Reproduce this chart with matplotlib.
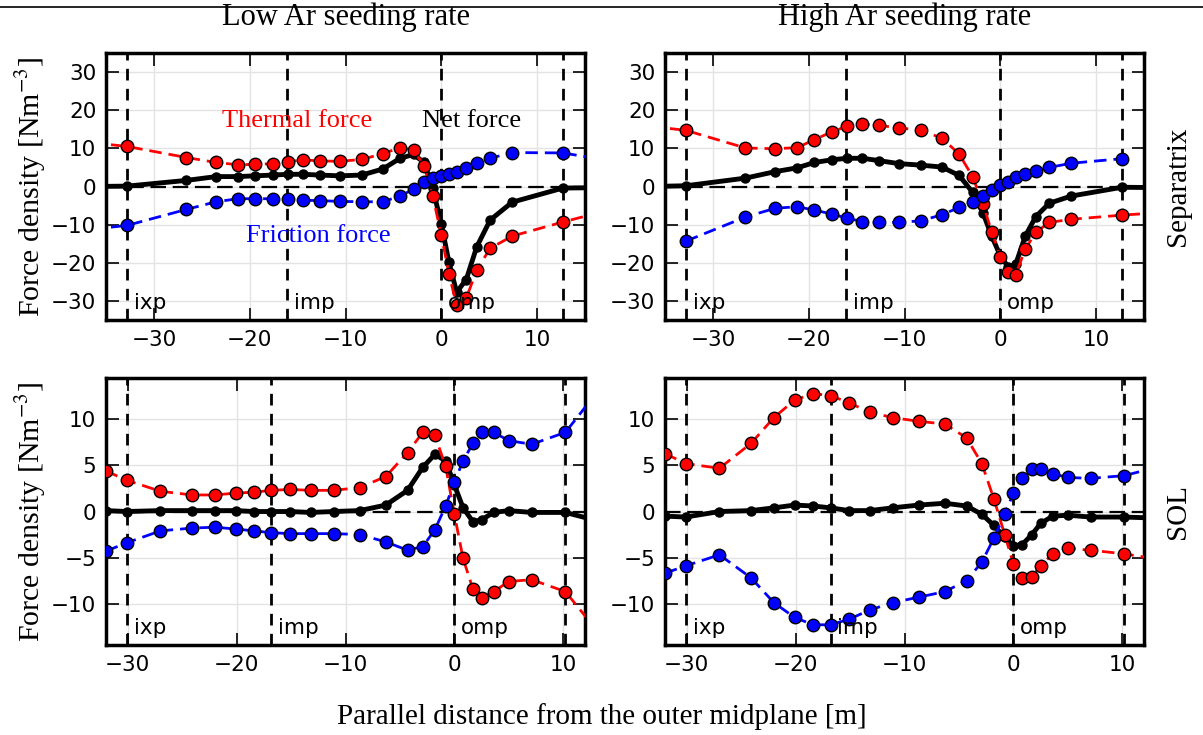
import numpy as np
import matplotlib
matplotlib.use('Agg')
import matplotlib.pyplot as plt
import matplotlib.transforms as mtransforms
from matplotlib.lines import Line2D

plt.rcParams['mathtext.fontset'] = 'stix'
SERIF = 'Liberation Serif'

# Separatrix (top row), positions along the field line [m]
x_sep = [-36.5, -32.8, -26.6, -23.5, -21.2, -19.4, -17.6, -16.0, -14.4, -12.7, -10.6, -8.3, -6.1,
         -4.3, -2.9, -1.8, -0.9, 0.0, 0.8, 1.6, 2.6, 3.7, 5.1, 7.4, 12.7, 17.0]

# Low Ar, separatrix
th_sep_low = [11.5, 10.5, 7.6, 6.3, 5.7, 5.8, 6.0, 6.5, 7.0, 6.7, 6.6, 7.1, 8.6,
              10.2, 9.6, 5.4, -2.4, -12.7, -22.9, -31.1, -29.3, -21.9, -16.2, -13.0, -9.3, -6.5]
fr_sep_low = [-11.2, -10.2, -6.0, -4.0, -3.2, -3.2, -3.2, -3.3, -3.6, -3.7, -3.9, -4.0, -4.0,
              -2.5, -0.7, 1.1, 2.2, 2.8, 3.2, 3.7, 4.8, 6.1, 7.4, 8.9, 8.8, 7.0]
net_sep_low = [0.0, 0.1, 1.6, 2.6, 2.6, 2.8, 3.0, 3.2, 3.2, 3.0, 2.8, 3.0, 4.6,
               7.4, 8.4, 6.3, -0.4, -9.8, -19.9, -27.7, -24.4, -15.8, -8.8, -4.1, -0.4, -0.3]

# High Ar, separatrix
th_sep_high = [15.8, 14.7, 10.1, 9.9, 10.2, 12.3, 14.3, 15.8, 16.4, 16.0, 15.4, 14.7, 12.7,
               8.5, 2.6, -4.7, -11.9, -18.4, -22.5, -23.1, -16.4, -12.0, -9.4, -8.6, -7.5, -6.8]
fr_sep_high = [np.nan, -14.3, -8.0, -5.7, -5.3, -6.2, -7.2, -8.3, -9.2, -9.4, -9.4, -9.0, -7.4,
               -5.5, -4.0, -2.4, -1.0, 0.3, 1.3, 2.6, 3.4, 4.1, 5.0, 6.1, 7.3, np.nan]
net_sep_high = [0.0, 0.2, 2.2, 3.9, 4.9, 6.3, 7.0, 7.4, 7.4, 6.8, 6.0, 5.6, 5.1,
                2.9, -1.5, -7.0, -13.0, -18.2, -21.0, -20.4, -13.0, -7.9, -4.4, -2.5, -0.2, -0.3]

# SOL (bottom row)
x_sol = [-32.0, -30.1, -27.0, -24.1, -22.0, -20.1, -18.4, -16.8, -15.1, -13.2, -11.1, -8.7, -6.3,
         -4.3, -2.9, -1.8, -0.8, 0.0, 0.8, 1.7, 2.5, 3.6, 5.0, 7.1, 10.2, 12.8]

th_sol_low = [4.4, 3.4, 2.2, 1.8, 1.8, 2.0, 2.1, 2.3, 2.4, 2.3, 2.3, 2.6, 3.8,
              6.4, 8.6, 8.3, 4.9, -0.3, -5.1, -8.4, -9.4, -8.7, -7.6, -7.4, -8.7, -12.5]
fr_sol_low = [-4.3, -3.4, -2.1, -1.8, -1.7, -1.9, -2.1, -2.3, -2.4, -2.4, -2.4, -2.5, -3.3,
              -4.2, -3.8, -2.0, 0.6, 3.2, 5.5, 7.4, 8.6, 8.6, 7.7, 7.3, 8.6, 12.5]
net_sol_low = [0.1, 0.0, 0.1, 0.1, 0.1, 0.1, 0.0, 0.0, 0.0, -0.1, 0.0, 0.1, 0.7,
               2.3, 4.8, 6.2, 5.5, 2.9, 0.4, -1.1, -0.9, -0.1, 0.1, -0.1, -0.1, -0.9]

th_sol_high = [6.3, 5.2, 4.7, 7.4, 10.2, 12.1, 12.8, 12.6, 11.8, 10.8, 10.2, 9.8, 9.5,
               8.0, 5.2, 1.4, -2.5, -5.7, -7.2, -7.1, -5.9, -4.6, -4.0, -4.2, -4.6, -5.1]
fr_sol_high = [-6.7, -5.9, -4.7, -7.2, -9.9, -11.5, -12.3, -12.3, -11.7, -10.7, -9.9, -9.3, -8.7,
               -7.5, -5.5, -2.9, -0.3, 2.0, 3.6, 4.6, 4.6, 4.1, 3.7, 3.6, 3.9, 4.7]
net_sol_high = [-0.5, -0.6, 0.0, 0.1, 0.4, 0.7, 0.6, 0.4, 0.1, 0.1, 0.4, 0.7, 0.9,
                0.6, -0.3, -1.5, -2.8, -3.7, -3.6, -2.5, -1.3, -0.5, -0.4, -0.6, -0.6, -0.7]

# Positions of the x-points, midplanes and target
marks_sep = [-32.8, -16.1, 0.0, 12.7]
marks_sol = [-30.1, -16.8, 0.0, 10.2]
mark_names = ['ixp', 'imp', 'omp']

fig = plt.figure(figsize=(12.03, 7.35), dpi=100)

boxes = [
    [0.0881, 0.5646, 0.3982, 0.3633],
    [0.5528, 0.5646, 0.3982, 0.3633],
    [0.0881, 0.1224, 0.3982, 0.3633],
    [0.5528, 0.1224, 0.3982, 0.3633],
]
panels = [
    (x_sep, th_sep_low, fr_sep_low, net_sep_low, marks_sep),
    (x_sep, th_sep_high, fr_sep_high, net_sep_high, marks_sep),
    (x_sol, th_sol_low, fr_sol_low, net_sol_low, marks_sol),
    (x_sol, th_sol_high, fr_sol_high, net_sol_high, marks_sol),
]

axes = []
for i, (box, (x, th, fr, net, marks)) in enumerate(zip(boxes, panels)):
    ax = fig.add_axes(box)
    axes.append(ax)
    ax.grid(True, color='#e3e3e3', lw=1.0, zorder=0)
    ax.set_axisbelow(True)

    # vertical markers and zero line
    for m in marks:
        ax.axvline(m, color='k', ls=(0, (4.2, 3)), lw=2, zorder=1)
    ax.axhline(0, color='k', ls=(0, (7, 3)), lw=1.6, zorder=1)

    ax.plot(x, net, '-o', color='k', lw=3.5, ms=6.5, mec='k', zorder=3)
    ax.plot(x, th, '--o', color='#ff0000', lw=2, ms=9, mec='k', mew=1, mfc='#ff0000',
            dashes=(4.5, 2.5), zorder=4)
    ax.plot(x, fr, '--o', color='#0000ff', lw=2, ms=9, mec='k', mew=1, mfc='#0000ff',
            dashes=(4.5, 2.5), zorder=5)

    trans = mtransforms.blended_transform_factory(ax.transData, ax.transAxes)
    for m, name in zip(marks[:3], mark_names):
        ax.annotate(name, (m, 0.025), xycoords=trans, xytext=(5, 0),
                    textcoords='offset points', fontsize=15.5, va='bottom', ha='left',
                    zorder=6)

    if i < 2:
        ax.set_xlim(-35, 15)
        ax.set_ylim(-35, 35)
        ax.set_yticks([-30, -20, -10, 0, 10, 20, 30])
    else:
        ax.set_xlim(-32, 12)
        ax.set_ylim(-14.5, 14.5)
        ax.set_yticks([-10, -5, 0, 5, 10])
    ax.set_xticks([-30, -20, -10, 0, 10])

    ax.tick_params(direction='in', top=True, right=True, length=9, width=1.2,
                   labelsize=15.5, pad=7)
    for sp in ax.spines.values():
        sp.set_linewidth(2.5)
    if i % 2 == 0:
        ax.set_ylabel('Force density [Nm$^{-3}$]', fontsize=21.5, family=SERIF, labelpad=2)

axes[0].set_title('Low Ar seeding rate', fontsize=22, family=SERIF, pad=20)
axes[1].set_title('High Ar seeding rate', fontsize=22, family=SERIF, pad=20)

axes[0].text(-15.0, 17.3, 'Thermal force', color='#ff0000', fontsize=19, family=SERIF,
             ha='center', va='center', zorder=7)
axes[0].text(3.2, 17.3, 'Net force', color='k', fontsize=19, family=SERIF,
             ha='center', va='center', zorder=7)
axes[0].text(-12.8, -13.0, 'Friction force', color='#0000ff', fontsize=19, family=SERIF,
             ha='center', va='center', zorder=7)

fig.text(0.979, 0.7463, 'Separatrix', rotation=90, fontsize=21, family=SERIF,
         ha='center', va='center')
fig.text(0.979, 0.3041, 'SOL', rotation=90, fontsize=21, family=SERIF,
         ha='center', va='center')
fig.text(0.5, 0.0245, 'Parallel distance from the outer midplane [m]', fontsize=21,
         family=SERIF, ha='center', va='center')

# page header rule
fig.add_artist(Line2D([0, 1], [0.9905, 0.9905], transform=fig.transFigure, color='k', lw=1.2))

fig.savefig('out.png', dpi=100)
